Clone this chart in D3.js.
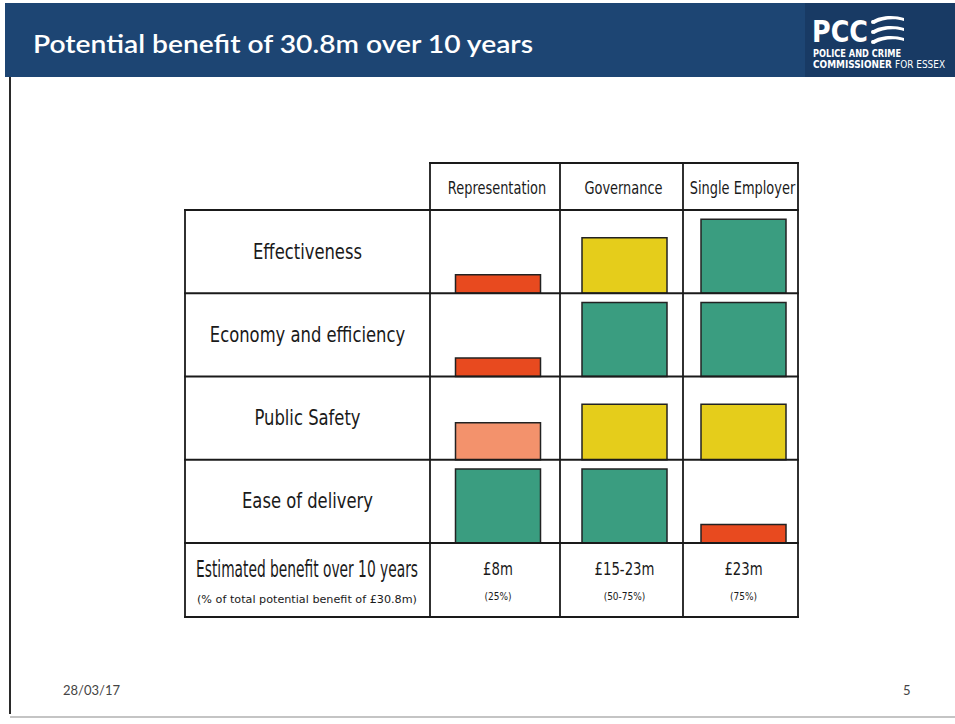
<!DOCTYPE html>
<meta charset="utf-8">
<style>
    body { margin: 0; background: #fff; }
    .hand { font-family: "DejaVu Sans", sans-serif; fill: #1a1a1a; }
    .grid line { stroke: #1a1a1a; stroke-width: 1.8; stroke-linecap: square; }
</style>
<body>
<script src="https://cdn.jsdelivr.net/npm/d3@7"></script>
<script>

    var title = "Potential benefit of 30.8m over 10 years";

    var criteria = ["Effectiveness", "Economy and efficiency", "Public Safety", "Ease of delivery"];
    var options = ["Representation", "Governance", "Single Employer"];

    // rating 1 = low (red), 2 = low-medium, 3 = medium (yellow), 4 = high (green)
    var representation = [1, 1, 2, 4];
    var governance = [3, 4, 3, 4];
    var singleEmployer = [4, 4, 3, 1];

    var benefit = ["£8m", "£15-23m", "£23m"];
    var benefitShare = ["(25%)", "(50-75%)", "(75%)"];

    var width = 955, height = 724;

    // squeeze text horizontally, the hand lettering is narrow and tall
    function squeeze(k) {
        return function() {
            var l = this.getComputedTextLength();
            d3.select(this).attr("textLength", l * k).attr("lengthAdjust", "spacingAndGlyphs");
        };
    }

    var svg = d3.select("body").append("svg")
        .attr("width", width)
        .attr("height", height);

    svg.append("rect").attr("width", width).attr("height", height).attr("fill", "#fff");

    // header band
    svg.append("rect")
        .attr("x", 5).attr("y", 3).attr("width", 950).attr("height", 74)
        .attr("fill", "#1d4573");
    svg.append("rect")
        .attr("x", 805).attr("y", 3).attr("width", 150).attr("height", 74)
        .attr("fill", "#183a64");

    svg.append("text")
        .attr("x", 33).attr("y", 53)
        .attr("fill", "#fff")
        .style("font-family", "Lato, 'Open Sans', sans-serif")
        .style("font-weight", 600)
        .style("font-size", "24px")
        .attr("textLength", 500)
        .attr("lengthAdjust", "spacingAndGlyphs")
        .text(title);

    // logo
    var logo = svg.append("g").attr("fill", "#fff")
        .style("font-family", "'DejaVu Sans Condensed', 'DejaVu Sans', sans-serif")
        .style("font-weight", 700);
    logo.append("text").attr("x", 812).attr("y", 42)
        .style("font-size", "31px")
        .attr("textLength", 56).attr("lengthAdjust", "spacingAndGlyphs")
        .text("PCC");
    logo.append("text").attr("x", 813).attr("y", 57)
        .style("font-size", "10px")
        .attr("textLength", 88).attr("lengthAdjust", "spacingAndGlyphs")
        .text("POLICE AND CRIME");
    var l2 = logo.append("text").attr("x", 813).attr("y", 68)
        .style("font-size", "10px")
        .attr("textLength", 132).attr("lengthAdjust", "spacingAndGlyphs");
    l2.append("tspan").text("COMMISSIONER ");
    l2.append("tspan").style("font-weight", 400).text("FOR ESSEX");

    [19, 29, 39].forEach(function(y) {
        logo.append("path")
            .attr("d", "M872," + (y + 2) + " C880," + (y - 4) + " 895," + (y - 4) + " 904," + (y - 1) +
                " L904," + (y + 2) + " C895," + (y - 1) + " 882," + (y) + " 874," + (y + 5) + " Z");
        logo.append("circle").attr("cx", 873).attr("cy", y + 3).attr("r", 2);
    });

    // page frame
    svg.append("line").attr("x1", 10).attr("x2", 10).attr("y1", 77).attr("y2", 714)
        .attr("stroke", "#2a2a2a").attr("stroke-width", 2);
    svg.append("line").attr("x1", 10).attr("x2", 955).attr("y1", 717).attr("y2", 717)
        .attr("stroke", "#c4c4c4").attr("stroke-width", 2);

    svg.append("text").attr("x", 63).attr("y", 695)
        .attr("fill", "#444")
        .style("font-family", "Lato, sans-serif").style("font-size", "13px")
        .text("28/03/17");
    svg.append("text").attr("x", 903).attr("y", 695)
        .attr("fill", "#444")
        .style("font-family", "Lato, sans-serif").style("font-size", "13px")
        .text("5");

    // table scales
    var headTop = 163, bodyTop = 210, bodyBottom = 543, tableBottom = 617;
    var labelLeft = 185, tableRight = 798;

    var y = d3.scaleBand().domain(criteria).range([bodyTop, bodyBottom]);
    var colLeft = d3.scaleOrdinal().domain(options).range([430, 560, 683]);
    var colRight = d3.scaleOrdinal().domain(options).range([560, 683, 798]);
    var colMid = function(o) { return (colLeft(o) + colRight(o)) / 2; };

    var h = d3.scaleLinear().domain([0, 4]).range([0, 74]);
    var color = d3.scaleOrdinal().domain([1, 2, 3, 4])
        .range(["#e84a1f", "#f3926c", "#e5cd1b", "#3a9d80"]);

    var scores = [representation, governance, singleEmployer];
    var cells = [];
    options.forEach(function(o, j) {
        criteria.forEach(function(c, i) {
            cells.push({ option: o, criterion: c, score: scores[j][i] });
        });
    });

    var barW = 85;
    svg.append("g").selectAll("rect")
        .data(cells)
        .enter().append("rect")
        .attr("x", function(d) { return colMid(d.option) + 3 - barW / 2; })
        .attr("y", function(d) { return y(d.criterion) + y.bandwidth() - h(d.score); })
        .attr("width", barW)
        .attr("height", function(d) { return h(d.score); })
        .attr("fill", function(d) { return color(d.score); })
        .attr("stroke", "#222")
        .attr("stroke-width", 1.5);

    // grid
    var grid = svg.append("g").attr("class", "grid");
    grid.append("line").attr("x1", colLeft(options[0])).attr("x2", tableRight).attr("y1", headTop).attr("y2", headTop);
    var hy = criteria.map(function(c) { return y(c); }).concat([bodyBottom, tableBottom]);
    grid.selectAll(".h").data(hy).enter().append("line")
        .attr("x1", labelLeft).attr("x2", tableRight)
        .attr("y1", function(d) { return d; }).attr("y2", function(d) { return d; });
    grid.append("line").attr("x1", labelLeft).attr("x2", labelLeft).attr("y1", bodyTop).attr("y2", tableBottom);
    var vx = options.map(function(o) { return colLeft(o); }).concat([tableRight]);
    grid.selectAll(".v").data(vx).enter().append("line")
        .attr("x1", function(d) { return d; }).attr("x2", function(d) { return d; })
        .attr("y1", headTop).attr("y2", tableBottom);

    // column headers
    svg.append("g").selectAll("text")
        .data(options)
        .enter().append("text")
        .attr("class", "hand")
        .attr("x", function(d) { return colMid(d) + 2; })
        .attr("y", 194)
        .attr("text-anchor", "middle")
        .style("font-size", "18px")
        .text(function(d) { return d; })
        .each(squeeze(0.72));

    // row labels
    svg.append("g").selectAll("text")
        .data(criteria)
        .enter().append("text")
        .attr("class", "hand")
        .attr("x", (labelLeft + colLeft(options[0])) / 2)
        .attr("y", function(d) { return y(d) + y.bandwidth() / 2 + 7; })
        .attr("text-anchor", "middle")
        .style("font-size", "21px")
        .text(function(d) { return d; })
        .each(squeeze(0.78));

    // summary row
    svg.append("text").attr("class", "hand")
        .attr("x", 196).attr("y", 577)
        .style("font-size", "23px")
        .attr("textLength", 222).attr("lengthAdjust", "spacingAndGlyphs")
        .text("Estimated benefit over 10 years");
    svg.append("text").attr("class", "hand")
        .attr("x", 197).attr("y", 603)
        .style("font-size", "11px")
        .attr("textLength", 220).attr("lengthAdjust", "spacingAndGlyphs")
        .text("(% of total potential benefit of £30.8m)");

    svg.append("g").selectAll("text")
        .data(options)
        .enter().append("text")
        .attr("class", "hand")
        .attr("x", function(d) { return colMid(d) + 3; })
        .attr("y", 575)
        .attr("text-anchor", "middle")
        .style("font-size", "17px")
        .text(function(d, i) { return benefit[i]; })
        .each(squeeze(0.78));
    svg.append("g").selectAll("text")
        .data(options)
        .enter().append("text")
        .attr("class", "hand")
        .attr("x", function(d) { return colMid(d) + 3; })
        .attr("y", 600)
        .attr("text-anchor", "middle")
        .style("font-size", "10px")
        .text(function(d, i) { return benefitShare[i]; })
        .each(squeeze(0.9));

</script>
